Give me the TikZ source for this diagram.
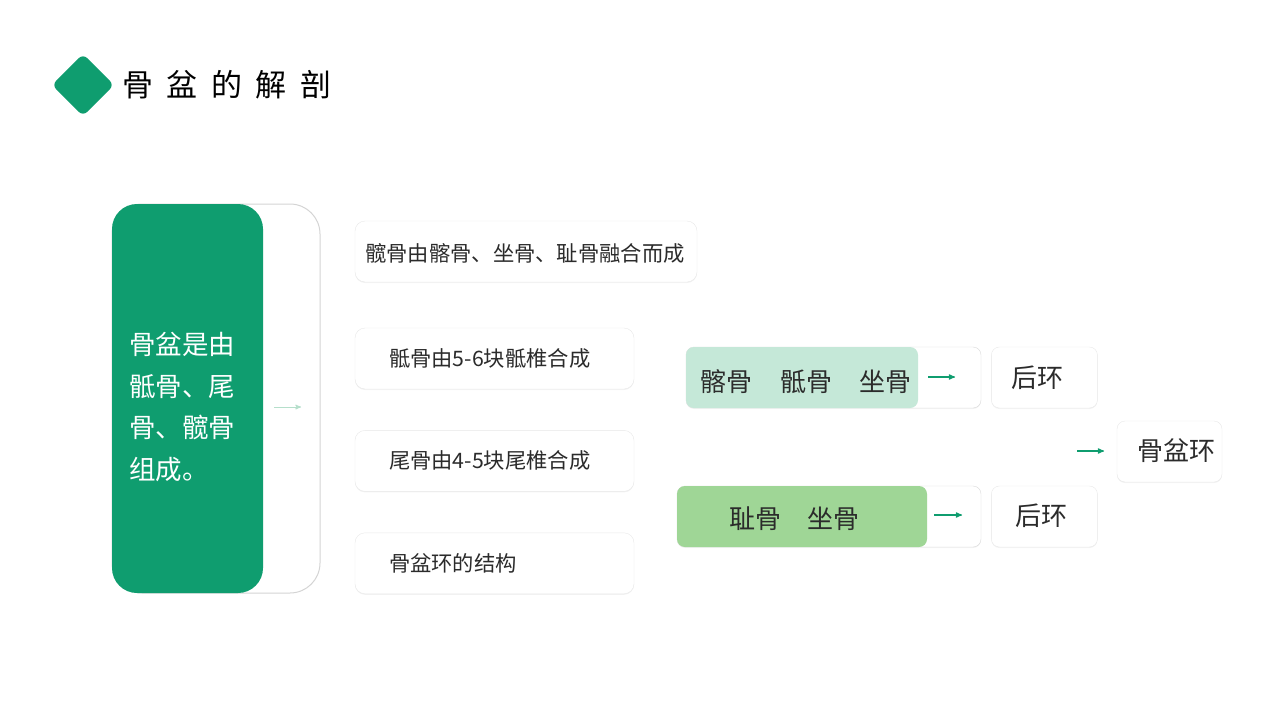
\documentclass[tikz,border=0pt]{standalone}
\usepackage{fontspec}
\setmainfont{Noto Sans CJK SC}
\usepackage{tikz}
\usetikzlibrary{arrows,positioning,shadows}
\definecolor{maingreen}{HTML}{0F9D6F}
\definecolor{palegreen}{HTML}{C5E8D8}
\definecolor{leafgreen}{HTML}{9FD696}
\definecolor{fadegreen}{HTML}{B5DFCB}
\definecolor{inkgray}{HTML}{2B2B2B}
\tikzset{
    %Define standard arrow tip
    >=stealth',
    %Define style for the green column
    column/.style={
           rectangle,
           rounded corners=25pt,
           fill=maingreen,
           minimum width=151pt,
           minimum height=389pt,
           inner sep=0pt},
    backframe/.style={
           rectangle,
           rounded corners=30pt,
           draw=black!17, line width=1pt,
           fill=white,
           minimum width=208pt,
           minimum height=389pt,
           inner sep=0pt},
    %Define style for boxes
    infobox/.style={
           rectangle,
           rounded corners=10pt,
           draw=black!9,
           fill=white,
           drop shadow={shadow xshift=0pt, shadow yshift=-1pt, opacity=0.10},
           minimum height=61pt,
           inner sep=0pt},
    fillbox/.style={
           rectangle,
           rounded corners=8pt,
           minimum height=61pt,
           inner sep=0pt},
    infotext/.style={
           inner sep=0pt,
           text=inkgray,
           font=\fontsize{21.3}{25}\selectfont},
    bonetext/.style={
           inner sep=0pt,
           text=inkgray,
           font=\fontsize{26}{30}\selectfont},
    % Define arrow style
    pil/.style={
           ->,
           maingreen,
           line width=1.2pt}
}

\begin{document}
\begin{tikzpicture}[x=1pt,y=-1pt]
\useasboundingbox (0,0) rectangle (1280,720);
% title
\node[rectangle, rotate=45, minimum size=44pt, rounded corners=6pt,
  fill=maingreen, inner sep=0pt] (mark) at (83,85) {};
\node[anchor=west, inner sep=0pt, font=\fontsize{31}{36}\selectfont]
  (title) at (122,85) {骨\hspace{13.5pt}盆\hspace{13.5pt}的\hspace{13.5pt}解\hspace{13.5pt}剖};
% left column
\node[backframe] (frame) at (216,398.5) {};
\node[column] (col) at (187.5,398.5) {};
\node[anchor=west, align=left, inner sep=0pt, text=white,
  font=\fontsize{26.5}{41.5}\selectfont] (coltxt) at (129,407)
  {骨盆是由\\骶骨、尾\\骨、髋骨\\组成。};
\coordinate (p0) at (274,407);
\coordinate (p1) at (301,407);
\draw[pil, fadegreen, line width=1pt] (p0) -- (p1);
% middle boxes
\node[infobox, minimum width=342pt] (hip) at (526,251.5) {};
\node[infotext] (hiptxt) at (525,253) {髋骨由髂骨、坐骨、耻骨融合而成};
\node[infobox, minimum width=279pt] (sacrum) at (494.5,358.5) {};
\node[infotext, right=34pt] (sacrumtxt) at (sacrum.west) {骶骨由5-6块骶椎合成};
\node[infobox, minimum width=279pt, below=41pt of sacrum] (coccyx) {};
\node[infotext, right=34pt] (coccyxtxt) at (coccyx.west) {尾骨由4-5块尾椎合成};
\node[infobox, minimum width=279pt, below=41pt of coccyx] (ringinfo) {};
\node[infotext, right=34pt] (ringinfotxt) at (ringinfo.west) {骨盆环的结构};
% right part
\node[infobox, rounded corners=8pt, minimum width=295pt, draw=black!15] (upper) at (833.5,377.5) {};
\node[fillbox, fill=palegreen, minimum width=232pt] (upperfill) at (802,377.5) {};
\node[bonetext] (uppertxt) at (806,382) {髂骨\hspace{1.05em}骶骨\hspace{1.05em}坐骨};
\node[infobox, rounded corners=8pt, minimum width=106pt, right=10pt of upper] (rear1) {};
\node[bonetext] (rear1txt) at (1037,378) {后环};
\node[infobox, rounded corners=8pt, minimum width=304pt, draw=black!15] (lower) at (829,516.5) {};
\node[fillbox, fill=leafgreen, minimum width=250pt] (lowerfill) at (802,516.5) {};
\node[bonetext] (lowertxt) at (794.5,519) {耻骨\hspace{1em}坐骨};
\node[infobox, rounded corners=8pt, minimum width=106pt, right=10pt of lower] (rear2) {};
\node[bonetext] (rear2txt) at (1041.5,516) {后环};
\node[infobox, rounded corners=8pt, minimum width=105pt] (ring) at (1169.5,451.5) {};
\node[bonetext] (ringtxt) at (1176,451) {骨盆环};
% arrows
\coordinate (a0) at (928,377);
\coordinate (a1) at (955,377);
\coordinate (b0) at (934,515);
\coordinate (b1) at (962,515);
\coordinate (c0) at (1077,451);
\coordinate (c1) at (1104,451);
\draw[pil] (a0) -- (a1);
\draw[pil] (b0) -- (b1);
\draw[pil] (c0) -- (c1);
\end{tikzpicture}
\end{document}
